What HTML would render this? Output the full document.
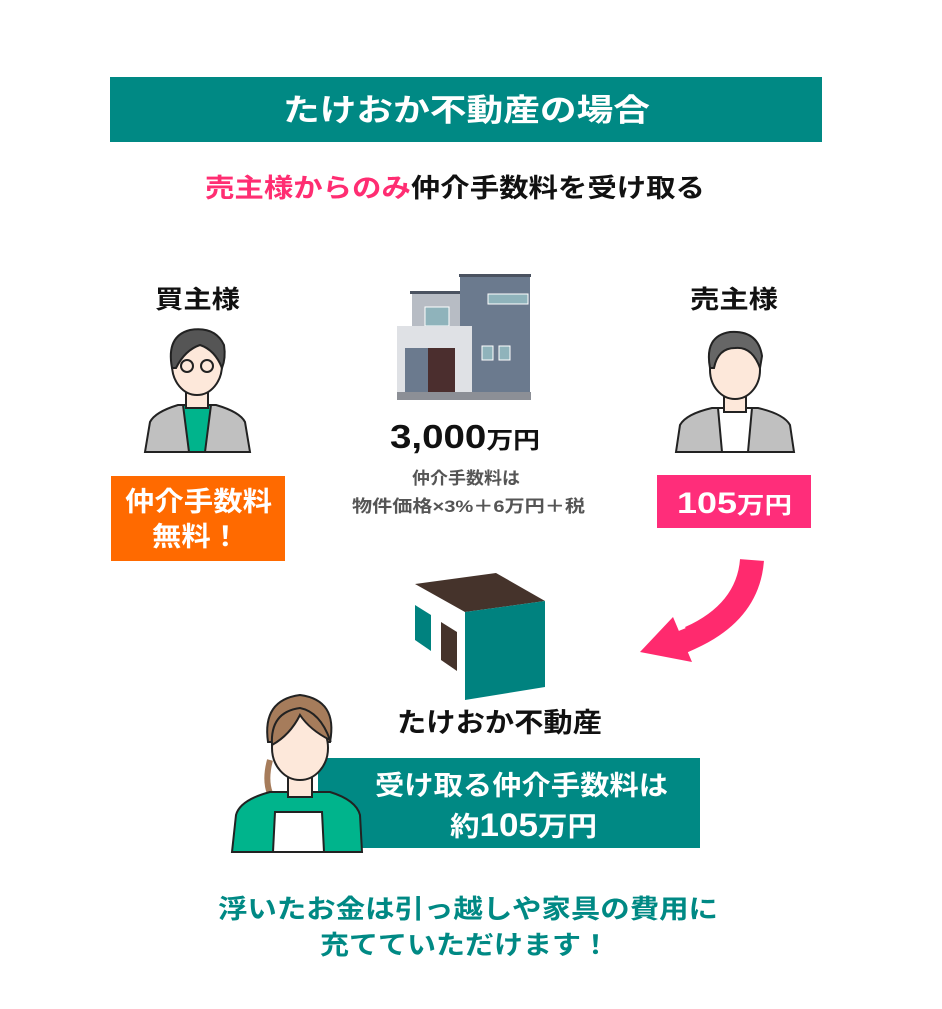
<!DOCTYPE html>
<html><head><meta charset="utf-8"><style>
html,body{margin:0;padding:0;background:#fff;}
svg{display:block;}
text{font-family:"Liberation Sans","Noto Sans CJK JP",sans-serif;font-weight:bold;}
</style></head><body>
<svg width="942" height="1009" viewBox="0 0 942 1009" xmlns="http://www.w3.org/2000/svg">
<rect x="110" y="77" width="712" height="65" fill="#008984"/>
<text x="283" y="121" font-size="31" fill="#fff" textLength="367" lengthAdjust="spacingAndGlyphs">たけおか不動産の場合</text>
<text x="205" y="197" font-size="26" textLength="500" lengthAdjust="spacingAndGlyphs"><tspan fill="#ff2d72">売主様からのみ</tspan><tspan fill="#111">仲介手数料を受け取る</tspan></text>

<text x="155" y="308" font-size="25" fill="#111" textLength="85" lengthAdjust="spacingAndGlyphs">買主様</text>
<text x="690" y="308" font-size="25" fill="#111" textLength="88" lengthAdjust="spacingAndGlyphs">売主様</text>

<!-- buyer -->
<g stroke="#222" stroke-width="2">
<path d="M145 452 L150 422 Q155 412 178 405 L216 405 Q240 412 245 422 L250 452 Z" fill="#c0c0c0"/>
<path d="M183 405 L211 405 L205 452 L189 452 Z" fill="#00b48c"/>
<rect x="186" y="388" width="22" height="20" fill="#fde8da"/>
<ellipse cx="197" cy="365" rx="25" ry="30" fill="#fde8da"/>
<path d="M172 368 Q166 336 190 330 Q215 326 224 345 Q226 358 222 368 Q215 350 200 345 Q185 350 176 368 Z" fill="#555"/>
<circle cx="187" cy="366" r="6" fill="none"/><circle cx="207" cy="366" r="6" fill="none"/>
</g>
<!-- seller -->
<g stroke="#222" stroke-width="2">
<path d="M676 452 L680 425 Q686 414 712 408 L758 408 Q784 414 790 425 L794 452 Z" fill="#c0c0c0"/>
<path d="M718 408 L752 408 L748 452 L722 452 Z" fill="#fff"/>
<rect x="724" y="392" width="22" height="20" fill="#fde8da"/>
<ellipse cx="735" cy="370" rx="25" ry="29" fill="#fde8da"/>
<path d="M710 368 Q704 336 730 332 Q758 330 762 356 L760 368 Q752 346 735 348 Q718 348 714 368 Z" fill="#666"/>
</g>

<!-- house -->
<rect x="459" y="274" width="72" height="3" fill="#4a5260"/>
<rect x="460" y="277" width="70" height="123" fill="#6b7a8e"/>
<rect x="488" y="294" width="40" height="10" fill="#8fb3bb" stroke="#fff"/>
<rect x="410" y="291" width="50" height="3" fill="#4a5260"/>
<rect x="412" y="294" width="48" height="40" fill="#b7bcc4"/>
<rect x="425" y="307" width="24" height="19" fill="#8fb3bb" stroke="#fff"/>
<rect x="397" y="326" width="75" height="74" fill="#dfe1e5"/>
<rect x="405" y="348" width="25" height="46" fill="#6b7a8e"/>
<rect x="428" y="348" width="27" height="46" fill="#4b2e2e"/>
<rect x="482" y="346" width="11" height="14" fill="#8fb3bb" stroke="#fff"/>
<rect x="499" y="346" width="11" height="14" fill="#8fb3bb" stroke="#fff"/>
<rect x="397" y="392" width="134" height="8" fill="#8c8f96"/>

<text x="390" y="448" font-size="33" fill="#111" textLength="150" lengthAdjust="spacingAndGlyphs">3,000<tspan font-size="23">万円</tspan></text>
<text x="412" y="484" font-size="17" fill="#555" textLength="108" lengthAdjust="spacingAndGlyphs">仲介手数料は</text>
<text x="352" y="512" font-size="17" fill="#555" textLength="233" lengthAdjust="spacingAndGlyphs">物件価格×3%＋6万円＋税</text>

<rect x="111" y="476" width="174" height="85" fill="#ff6a00"/>
<text x="125" y="511" font-size="27" fill="#fff" textLength="147" lengthAdjust="spacingAndGlyphs">仲介手数料</text>
<text x="152" y="546" font-size="27" fill="#fff" textLength="88" lengthAdjust="spacingAndGlyphs">無料！</text>
<rect x="657" y="475" width="154" height="53" fill="#ff2d7a"/>
<text x="677" y="513" font-size="30" fill="#fff" textLength="115" lengthAdjust="spacingAndGlyphs">105<tspan font-size="23">万円</tspan></text>

<!-- arrow -->
<path d="M752 560 Q748 612 690 638 L686 628" fill="none" stroke="#ff2a6e" stroke-width="24"/>
<polygon points="640,652 673,617 692,662" fill="#ff2a6e"/>

<!-- logo -->
<polygon points="415,584 496,573 545,601 465,612" fill="#45332b"/>
<polygon points="465,612 545,601 545,687 465,700" fill="#00827f"/>
<polygon points="415,605 431,615 431,651 415,640" fill="#00827f"/>
<polygon points="441,622 457,632 457,671 441,660" fill="#45332b"/>
<text x="397" y="732" font-size="27" fill="#111" textLength="205" lengthAdjust="spacingAndGlyphs">たけおか不動産</text>

<rect x="318" y="758" width="382" height="90" fill="#008984"/>
<text x="375" y="795" font-size="27" fill="#fff" textLength="293" lengthAdjust="spacingAndGlyphs">受け取る仲介手数料は</text>
<text x="450" y="836" font-size="27" fill="#fff" textLength="147" lengthAdjust="spacingAndGlyphs">約<tspan font-size="32">105</tspan>万円</text>

<!-- woman -->
<g stroke="#222" stroke-width="2">
<path d="M268 742 Q262 700 300 695 Q338 700 330 742 Z" fill="#a67c5b"/>
<path d="M270 760 Q262 790 278 805" fill="none" stroke="#a67c5b" stroke-width="6"/>
<path d="M232 852 L236 815 Q240 800 270 792 L330 792 Q356 800 360 815 L362 852 Z" fill="#00b48c"/>
<path d="M275 812 L322 812 L324 852 L273 852 Z" fill="#fff"/>
<rect x="288" y="775" width="24" height="22" fill="#fde8da"/>
<ellipse cx="300" cy="748" rx="28" ry="32" fill="#fde8da"/>
<path d="M272 745 Q270 712 300 708 Q320 712 330 740 Q310 730 300 715 Q290 735 272 745 Z" fill="#a67c5b"/>
</g>

<text x="218" y="918" font-size="26" fill="#008984" textLength="500" lengthAdjust="spacingAndGlyphs">浮いたお金は引っ越しや家具の費用に</text>
<text x="320" y="954" font-size="26" fill="#008984" textLength="290" lengthAdjust="spacingAndGlyphs">充てていただけます！</text>
</svg>
</body></html>
